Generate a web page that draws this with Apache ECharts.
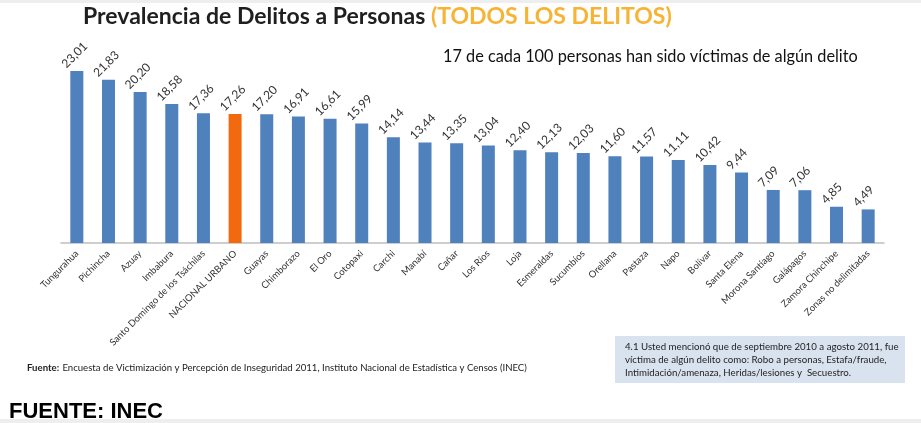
<!DOCTYPE html>
<html>
<head>
<meta charset="utf-8">
<script src="https://cdn.jsdelivr.net/npm/echarts@6/dist/echarts.min.js"></script>
<style>
  html, body { margin: 0; padding: 0; background: #fff; }
  #chart { width: 921px; height: 423px; }
</style>
</head>
<body>
<div id="chart"></div>
<script>
const categories = [
  'Tungurahua', 'Pichincha', 'Azuay', 'Imbabura', 'Santo Domingo de los Tsáchilas',
  'NACIONAL URBANO', 'Guayas', 'Chimborazo', 'El Oro', 'Cotopaxi', 'Carchi', 'Manabí',
  'Cañar', 'Los Ríos', 'Loja', 'Esmeraldas', 'Sucumbíos', 'Orellana', 'Pastaza', 'Napo',
  'Bolívar', 'Santa Elena', 'Morona Santiago', 'Galápagos', 'Zamora Chinchipe',
  'Zonas no delimitadas'
];
const values = [
  23.01, 21.83, 20.20, 18.58, 17.36, 17.26, 17.20, 16.91, 16.61, 15.99, 14.14, 13.44,
  13.35, 13.04, 12.40, 12.13, 12.03, 11.60, 11.57, 11.11, 10.42, 9.44, 7.09, 7.06,
  4.85, 4.49
];
const highlight = 'NACIONAL URBANO';

const font = 'Lato, "Open Sans", sans-serif';
const fmt = v => v.toFixed(2).replace('.', ',');

var myChart = echarts.init(document.getElementById('chart'));
myChart.setOption({
  backgroundColor: '#ffffff',
  animation: false,
  grid: { left: 61, right: 37, top: 56, bottom: 180 },
  xAxis: {
    type: 'category',
    data: categories,
    axisLine: { lineStyle: { color: '#BFBFBF', width: 1.5 } },
    axisTick: { show: false },
    axisLabel: {
      interval: 0,
      rotate: 45,
      fontSize: 9.5,
      fontFamily: font,
      color: '#333',
      margin: 9
    }
  },
  yAxis: {
    type: 'value',
    min: 0,
    max: 25,
    show: false
  },
  series: [
    {
      type: 'bar',
      barWidth: 13,
      data: values.map((v, i) => ({
        value: v,
        itemStyle: { color: categories[i] === highlight ? '#F26A10' : '#4F81BD' }
      }))
    },
    {
      // slanted value labels above the bars
      type: 'custom',
      z: 5,
      data: values.map((v, i) => [i, v]),
      encode: { x: 0, y: 1 },
      renderItem: (params, api) => {
        const p = api.coord([api.value(0), api.value(1)]);
        return {
          type: 'text',
          x: p[0] - 13,
          y: p[1] - 5,
          rotation: Math.PI / 4,
          style: {
            text: fmt(api.value(1)),
            align: 'left',
            verticalAlign: 'middle',
            fontSize: 12,
            fontFamily: font,
            fill: '#333'
          }
        };
      }
    }
  ],
  graphic: [
    { type: 'rect', left: 0, top: 0, shape: { width: 921, height: 3 }, style: { fill: '#EEEEEE' } },
    {
      type: 'text', left: 83, top: 5,
      style: {
        text: '{a|Prevalencia de Delitos a Personas }{b|(TODOS LOS DELITOS)}',
        rich: {
          a: { fontSize: 23, fontWeight: 'bold', fontFamily: font, fill: '#1F1F1F' },
          b: { fontSize: 23, fontWeight: 'bold', fontFamily: font, fill: '#F7B334' }
        }
      }
    },
    {
      type: 'text', left: 443, top: 49,
      style: { text: '17 de cada 100 personas han sido víctimas de algún delito', fontSize: 16.3, fontFamily: font, fill: '#111' }
    },
    {
      type: 'text', left: 27, top: 362,
      style: {
        text: '{b|Fuente:} {a|Encuesta de Victimización y Percepción de Inseguridad 2011, Instituto Nacional de Estadística y Censos (INEC)}',
        rich: {
          b: { fontSize: 9.6, fontWeight: 'bold', fontFamily: font, fill: '#222' },
          a: { fontSize: 9.6, fontFamily: font, fill: '#222' }
        }
      }
    },
    {
      type: 'group', left: 615, top: 336,
      children: [
        { type: 'rect', shape: { width: 290, height: 47 }, style: { fill: '#D9E3F0' } },
        {
          type: 'text', left: 10, top: 4,
          style: {
            text: '4.1 Usted mencionó que de septiembre 2010 a agosto 2011, fue\nvíctima de algún delito como: Robo a personas, Estafa/fraude,\nIntimidación/amenaza, Heridas/lesiones y  Secuestro.',
            fontSize: 9.7, lineHeight: 13, fontFamily: font, fill: '#222'
          }
        }
      ]
    },
    {
      type: 'text', left: 9, top: 401,
      style: { text: 'FUENTE: INEC', fontSize: 22, fontWeight: 'bold', fontFamily: 'Liberation Sans, Arial, sans-serif', fill: '#000' }
    },
    { type: 'rect', left: 0, top: 419, shape: { width: 921, height: 4 }, style: { fill: '#EEEEEE' } }
  ]
});
</script>
</body>
</html>
